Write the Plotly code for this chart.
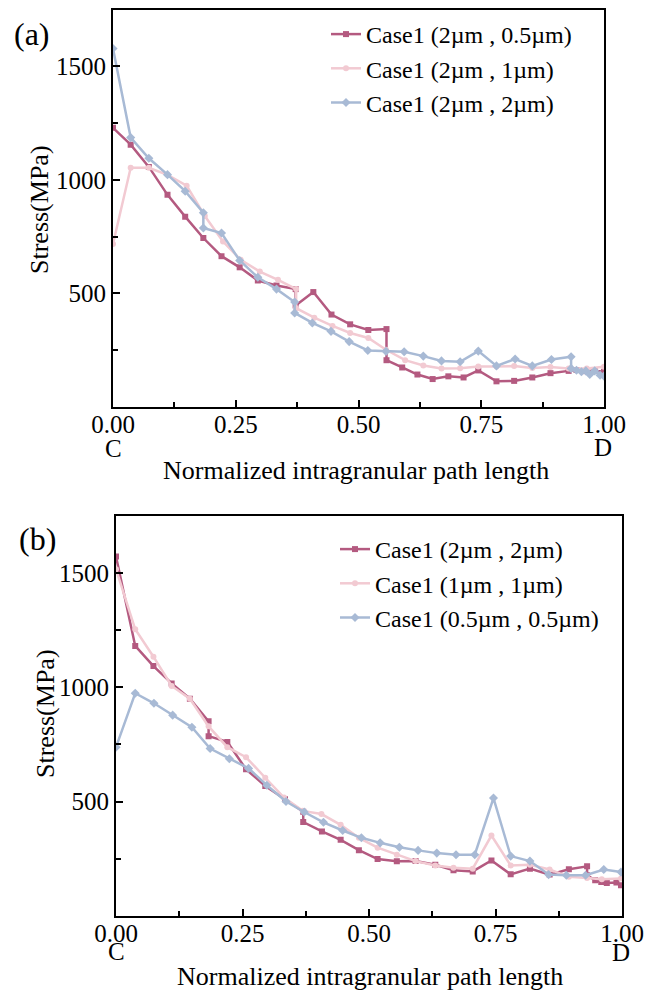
import plotly.graph_objects as go

# ---------------- data: panel (a) ----------------
a_red_x = [0, 0.036, 0.073, 0.111, 0.147, 0.184, 0.221, 0.258, 0.295, 0.333, 0.372, 0.372, 0.408, 0.445,
           0.483, 0.52, 0.557, 0.557, 0.589, 0.62, 0.651, 0.683, 0.714, 0.744, 0.781, 0.817, 0.854, 0.891,
           0.928, 0.944, 0.963, 0.981, 1.0]
a_red_y = [1229, 1155, 1057, 934, 838, 744, 664, 615, 557, 535, 519, 447, 506, 407, 364, 339, 343, 206,
           174, 143, 123, 135, 130, 161, 113, 115, 130, 149, 159, 163, 158, 160, 155]

a_pink_x = [0, 0.036, 0.073, 0.111, 0.150, 0.187, 0.224, 0.26, 0.299, 0.336, 0.373, 0.373, 0.41, 0.447,
            0.483, 0.52, 0.556, 0.595, 0.632, 0.669, 0.707, 0.744, 0.781, 0.817, 0.854, 0.891, 0.928,
            0.965, 1.0]
a_pink_y = [718, 1053, 1053, 1022, 974, 841, 729, 648, 596, 560, 519, 435, 393, 357, 326, 304, 252, 206,
            183, 170, 171, 178, 178, 180, 172, 176, 170, 170, 177]

a_blue_x = [0, 0.036, 0.073, 0.111, 0.147, 0.184, 0.184, 0.221, 0.258, 0.295, 0.333, 0.370, 0.370, 0.406,
            0.444, 0.481, 0.519, 0.556, 0.593, 0.632, 0.669, 0.707, 0.744, 0.781, 0.819, 0.854, 0.893,
            0.933, 0.933, 0.944, 0.954, 0.963, 0.971, 0.981, 0.992, 1.0]
a_blue_y = [1578, 1186, 1095, 1023, 950, 855, 788, 766, 645, 571, 519, 462, 414, 370, 333, 288, 249, 245,
            243, 224, 203, 199, 246, 181, 211, 181, 209, 221, 170, 162, 155, 159, 143, 159, 140, 136]

# ---------------- data: panel (b) ----------------
b_red_x = [0, 0.038, 0.074, 0.11, 0.146, 0.183, 0.183, 0.22, 0.257, 0.295, 0.334, 0.370, 0.370, 0.407,
           0.444, 0.48, 0.517, 0.555, 0.592, 0.631, 0.667, 0.705, 0.742, 0.78, 0.818, 0.857, 0.895, 0.931,
           0.931, 0.947, 0.959, 0.97, 0.989, 0.998]
b_red_y = [1573, 1181, 1093, 1017, 950, 851, 786, 761, 641, 568, 510, 455, 410, 369, 332, 287, 248, 238,
           239, 223, 199, 194, 242, 181, 206, 180, 203, 216, 177, 155, 148, 143, 145, 133]

b_pink_x = [0, 0.038, 0.074, 0.11, 0.146, 0.183, 0.22, 0.257, 0.295, 0.332, 0.369, 0.406, 0.444, 0.48,
            0.517, 0.555, 0.592, 0.631, 0.667, 0.705, 0.742, 0.78, 0.818, 0.857, 0.895, 0.931, 0.96, 0.998]
b_pink_y = [1517, 1254, 1134, 1006, 950, 829, 738, 694, 604, 517, 459, 445, 398, 341, 298, 267, 239, 220,
            210, 206, 351, 220, 223, 202, 170, 165, 160, 163]

b_blue_x = [0, 0.038, 0.075, 0.112, 0.15, 0.186, 0.224, 0.262, 0.298, 0.336, 0.372, 0.41, 0.448, 0.485,
            0.522, 0.56, 0.597, 0.634, 0.672, 0.709, 0.746, 0.78, 0.818, 0.855, 0.89, 0.928, 0.964, 0.998]
b_blue_y = [738, 974, 930, 878, 825, 732, 687, 645, 571, 500, 454, 409, 373, 341, 319, 300, 286, 274,
            267, 267, 515, 261, 239, 180, 177, 177, 202, 191]

a_names = ["Case1 (2µm , 0.5µm)", "Case1 (2µm , 1µm)", "Case1 (2µm , 2µm)"]
b_names = ["Case1 (2µm , 2µm)", "Case1 (1µm , 1µm)", "Case1 (0.5µm , 0.5µm)"]

x_tickvals = [0, 0.25, 0.5, 0.75, 1.0]
x_ticktext = ["0.00", "0.25", "0.50", "0.75", "1.00"]
y_tickvals = [500, 1000, 1500]
end_labels = ["C", "D"]

RED = "#b45a80"
PINK = "#f2cad2"
BLUE = "#a8bad5"
FONT = "Liberation Serif"

W, H = 658, 994

fig = go.Figure()

styles = [(RED, "square", 6), (PINK, "circle", 6), (BLUE, "diamond", 7)]

for (xs, ys), name, (c, sym, ms) in zip(
        [(a_red_x, a_red_y), (a_pink_x, a_pink_y), (a_blue_x, a_blue_y)], a_names, styles):
    fig.add_trace(go.Scatter(x=xs, y=ys, name=name, mode="lines+markers",
                             line=dict(color=c, width=2.5),
                             marker=dict(color=c, symbol=sym, size=ms),
                             xaxis="x", yaxis="y", legend="legend"))

for (xs, ys), name, (c, sym, ms) in zip(
        [(b_red_x, b_red_y), (b_pink_x, b_pink_y), (b_blue_x, b_blue_y)], b_names, styles):
    fig.add_trace(go.Scatter(x=xs, y=ys, name=name, mode="lines+markers",
                             line=dict(color=c, width=2.5),
                             marker=dict(color=c, symbol=sym, size=ms),
                             xaxis="x2", yaxis="y2", legend="legend2"))


def px_x(p):
    return p / W


def px_y(p):
    return 1 - p / H


xcommon = dict(range=[0, 1.0], tickmode="array", tickvals=x_tickvals, ticktext=x_ticktext,
               ticks="inside", ticklen=7, tickwidth=1.5, tickcolor="black",
               showline=True, linecolor="black", linewidth=2, mirror=True,
               showgrid=False, zeroline=False, automargin=False, ticklabelstandoff=-6,
               tickfont=dict(family=FONT, size=25, color="black"),
               minor=dict(tickvals=[0.125, 0.375, 0.625, 0.875], ticks="inside", ticklen=5,
                          tickwidth=1.5, tickcolor="black", showgrid=False))
ycommon = dict(range=[0, 1750], tickmode="array", tickvals=y_tickvals,
               ticks="inside", ticklen=7, tickwidth=1.5, tickcolor="black",
               showline=True, linecolor="black", linewidth=2, mirror=True,
               showgrid=False, zeroline=False, automargin=False,
               tickfont=dict(family=FONT, size=25, color="black"),
               minor=dict(tickvals=[250, 750, 1250], ticks="inside", ticklen=5,
                          tickwidth=1.5, tickcolor="black", showgrid=False))

legcommon = dict(font=dict(family=FONT, size=24, color="black"), bgcolor="rgba(0,0,0,0)",
                 xanchor="left", yanchor="top", tracegroupgap=0, itemwidth=30)

fig.update_layout(
    width=W, height=H,
    margin=dict(l=0, r=0, t=0, b=0),
    paper_bgcolor="white", plot_bgcolor="white",
    font=dict(family=FONT, color="black"),
    xaxis=dict(domain=[px_x(113), px_x(604)], anchor="y", **xcommon),
    yaxis=dict(domain=[px_y(407), px_y(9.5)], anchor="x", **ycommon),
    xaxis2=dict(domain=[px_x(116), px_x(622)], anchor="y2", **xcommon),
    yaxis2=dict(domain=[px_y(915.7), px_y(516)], anchor="x2", **ycommon),
    legend=dict(x=px_x(326), y=px_y(12), **legcommon),
    legend2=dict(x=px_x(335), y=px_y(527), **legcommon),
)

annos = [
    dict(text="(a)", x=px_x(32), y=px_y(34), size=32),
    dict(text="(b)", x=px_x(37), y=px_y(539), size=32),
    dict(text="Normalized intragranular path length", x=px_x(356), y=px_y(470), size=26),
    dict(text="Normalized intragranular path length", x=px_x(370), y=px_y(976), size=26),
    dict(text="Stress(MPa)", x=px_x(40), y=px_y(210), size=26, textangle=-90),
    dict(text="Stress(MPa)", x=px_x(45), y=px_y(714), size=26, textangle=-90),
    dict(text=end_labels[0], x=px_x(113), y=px_y(448), size=25),
    dict(text=end_labels[1], x=px_x(603), y=px_y(447), size=25),
    dict(text=end_labels[0], x=px_x(116), y=px_y(951), size=25),
    dict(text=end_labels[1], x=px_x(621), y=px_y(952), size=25),
]
for a in annos:
    size = a.pop("size")
    a.update(xref="paper", yref="paper", showarrow=False, xanchor="center", yanchor="middle",
             font=dict(family=FONT, color="black", size=size))
    fig.add_annotation(**a)

fig.write_html("out.html")
